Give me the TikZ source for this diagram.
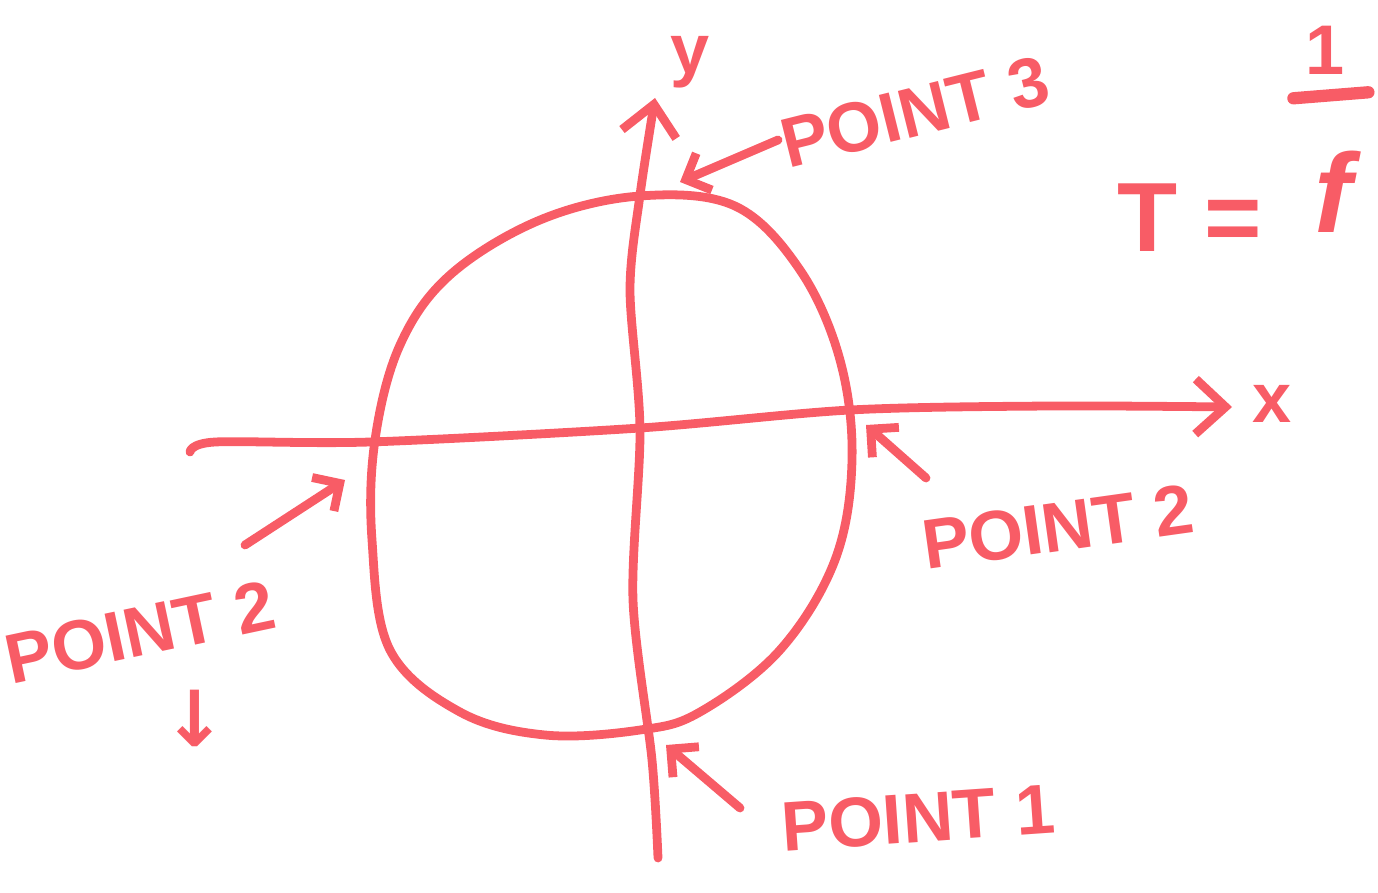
\documentclass[tikz,border=0pt]{standalone}
\usepackage{fontspec}
\usepackage{xcolor}
\usepackage{tikz}
\usetikzlibrary{arrows.meta, positioning}
\setmainfont{Liberation Sans}
\newfontfamily\arrowfont{DejaVu Sans}
\definecolor{marker}{HTML}{F85C66}

\begin{document}
\begin{tikzpicture}[x=0.02cm, y=-0.02cm]
    \tikzstyle{ink} = [draw=marker, line width=5pt, line cap=round, line join=round]
    \tikzstyle{axisline} = [ink, -{Straight Barb[length=6mm, width=11mm]}]
    \tikzstyle{pointer} = [ink, -{Straight Barb[length=4mm, width=8mm]}]
    \tikzstyle{label} = [text=marker, font=\fontsize{40}{44}\selectfont\bfseries, inner sep=1pt]
    \tikzstyle{bigsym} = [label, font=\fontsize{56}{60}\selectfont\bfseries]

    \useasboundingbox (0,0) rectangle (1378,892);

    % the loop
    \draw [ink] plot [smooth cycle, tension=0.6] coordinates {
        (640,196) (735,206) (800,270) (840,360) (852,460) (835,560)
        (780,650) (700,712) (640,730) (545,735) (460,712) (390,650)
        (372,540) (375,440) (400,345) (450,275) (540,220)};

    % axes
    \coordinate (xstart) at (190,452);
    \coordinate (xend) at (1232,407);
    \coordinate (ystart) at (658,858);
    \coordinate (yend) at (655,98);
    \draw [axisline] plot [smooth, tension=0.5] coordinates {
        (xstart) (215,442) (370,442) (640,428) (850,410) (1050,406) (xend)};
    \draw [axisline] plot [smooth, tension=0.5] coordinates {
        (ystart) (652,760) (633,600) (640,430) (630,290) (640,195) (yend)};

    \node [label] (xlab) at (1272,404) {x};
    \node [label] (ylab) at (690,62) {y};

    % labels
    \node [label, rotate=14] (p3) at (915,112) {POINT 3};
    \node [label, rotate=8] (p2r) at (1058,527) {POINT 2};
    \node [label, rotate=12] (p2l) at (140,632) {POINT 2};
    \node [text=marker, font=\arrowfont\fontsize{44}{46}\selectfont\bfseries] (down) at (195,718) {↓};
    \node [label, rotate=4] (p1) at (918,818) {POINT 1};

    % T = 1/f
    \node [bigsym] (teq) at (1190,218) {T =};
    \node [bigsym, font=\fontsize{64}{66}\selectfont\bfseries\itshape] (fsym) at (1333,192) {f};
    \node [bigsym, font=\fontsize{40}{44}\selectfont\bfseries] (one) at (1325,50) {1};
    \draw [ink, line width=7pt] ([xshift=-18]one.south) ++(0,22) -- ++(75,-6);

    % pointers
    \coordinate (t3) at (680,182);
    \coordinate (t2r) at (866,425);
    \coordinate (t2l) at (345,480);
    \coordinate (t1) at (666,745);
    \draw [pointer] (778,140) -- (t3);
    \draw [pointer] (926,478) -- (t2r);
    \draw [pointer] (245,545) -- (t2l);
    \draw [pointer] (740,808) -- (t1);
\end{tikzpicture}
\end{document}
